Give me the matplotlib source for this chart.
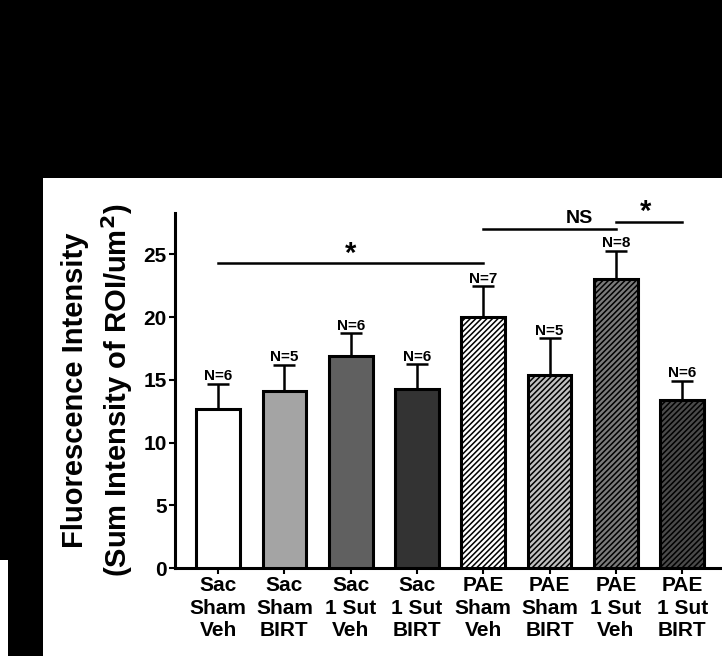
import matplotlib.pyplot as plt
from matplotlib.patches import Rectangle
import numpy as np

# Group labels and measured values
groups = ["Sac\nSham\nVeh", "Sac\nSham\nBIRT", "Sac\n1 Sut\nVeh", "Sac\n1 Sut\nBIRT",
          "PAE\nSham\nVeh", "PAE\nSham\nBIRT", "PAE\n1 Sut\nVeh", "PAE\n1 Sut\nBIRT"]
means = [12.7, 14.1, 16.9, 14.3, 20.0, 15.4, 23.0, 13.4]
sem = [2.0, 2.1, 1.8, 1.95, 2.45, 2.9, 2.3, 1.5]
n_counts = [6, 5, 6, 6, 7, 5, 8, 6]

fills = ["#ffffff", "#a4a4a4", "#606060", "#333333",
         "#ffffff", "#c0c0c0", "#7a7a7a", "#4a4a4a"]
hatches = [None, None, None, None, "//////", "//////", "//////", "//////"]

# Significance brackets: (x start, x end, y, label)
brackets = [(0, 4, 24.3, "*"), (4, 6, 27.0, "NS"), (6, 7, 27.6, "*")]

plt.rcParams['font.family'] = ['Liberation Sans', 'DejaVu Sans']
plt.rcParams['font.weight'] = 'bold'
plt.rcParams['hatch.linewidth'] = 1.1
plt.rcParams['hatch.color'] = 'black'

fig = plt.figure(figsize=(7.22, 6.56), dpi=100, facecolor='black')
# white panel holding the graph
fig.patches.append(Rectangle((43 / 722, 0), 1, (656 - 178) / 656,
                             transform=fig.transFigure, facecolor='white',
                             edgecolor='none', zorder=-5))
fig.patches.append(Rectangle((0, 0), 8 / 722, 96 / 656,
                             transform=fig.transFigure, facecolor='white',
                             edgecolor='none', zorder=-5))

ax = fig.add_axes([175 / 722, 88 / 656, (722 - 175) / 722, (568 - 213) / 656])
ax.set_facecolor('none')

x = np.arange(len(groups))
bars = ax.bar(x, means, width=0.66, color=fills, edgecolor='black', linewidth=2.2, zorder=3)
for bar, h in zip(bars, hatches):
    if h:
        bar.set_hatch(h)

ax.errorbar(x, means, yerr=[np.zeros(len(sem)), sem], fmt='none', ecolor='black',
            elinewidth=1.8, capsize=8, capthick=1.8, zorder=2)

for xi, m, s, n in zip(x, means, sem, n_counts):
    ax.text(xi, m + s + 0.05, f"N={n}", ha='center', va='bottom', fontsize=11,
            fontweight='bold')

for x0, x1, yb, lab in brackets:
    ax.plot([x0, x1], [yb, yb], color='black', lw=1.8, clip_on=False)
    if lab == "*":
        ax.text((x0 + x1) / 2 - (0.06 if x1 - x0 == 1 else 0), yb - 0.35, lab,
                ha='center', va='bottom', fontsize=21, fontweight='bold')
    else:
        ax.text((x0 + x1) / 2 + 0.45, yb + 0.15, lab, ha='center', va='bottom',
                fontsize=14, fontweight='bold')

ax.set_xlim(-0.65, 7.6)
ax.set_ylim(0, 28.3)
ax.set_yticks([0, 5, 10, 15, 20, 25])
ax.set_xticks(x)
ax.set_xticklabels(groups, fontsize=15, fontweight='bold', linespacing=1.22)
ax.tick_params(axis='y', labelsize=15, width=1.5, length=4, pad=2)
ax.tick_params(axis='x', width=1.5, length=4, pad=2)
for lab in ax.get_yticklabels():
    lab.set_fontweight('bold')

for side in ['top', 'right']:
    ax.spines[side].set_visible(False)
for side in ['left', 'bottom']:
    ax.spines[side].set_linewidth(2.2)

ax.set_ylabel("Fluorescence Intensity\n(Sum Intensity of ROI/um$^\\mathbf{2}$)",
              fontsize=21, fontweight='bold', linespacing=1.35, labelpad=6)

fig.savefig("out.png", dpi=100, facecolor='black')
